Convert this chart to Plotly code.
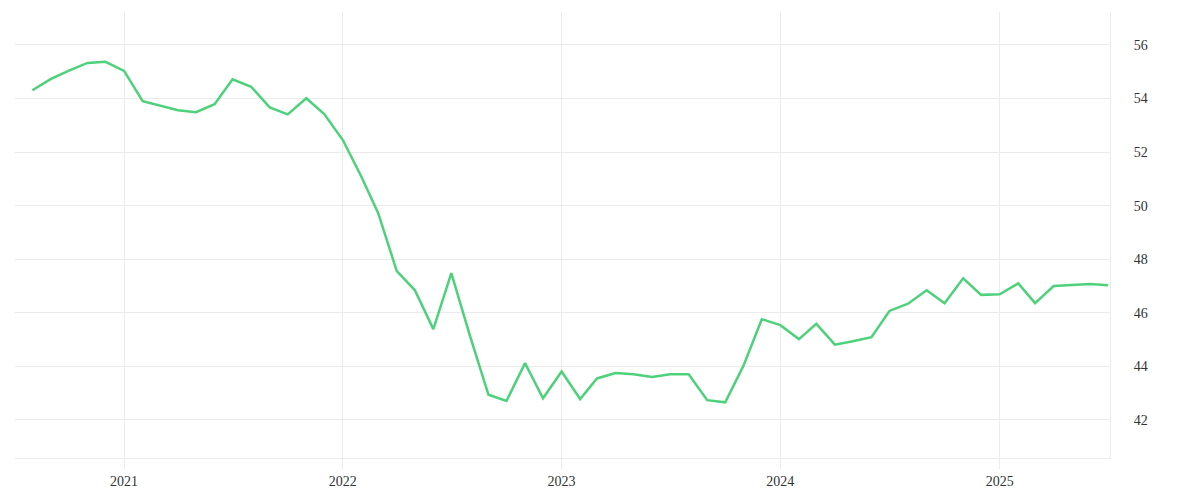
import pandas as pd
import plotly.graph_objects as go

# monthly readings, Aug 2020 .. Jul 2025
months = pd.date_range("2020-08-01", "2025-07-01", freq="MS")
values = [
    54.31, 54.73, 55.04, 55.33, 55.37,
    55.03, 53.90, 53.73, 53.56, 53.49, 53.79, 54.72, 54.44, 53.67, 53.41, 54.01, 53.42,
    52.45, 51.08, 49.72, 47.56, 46.85, 45.39, 47.48, 45.15, 42.94, 42.71, 44.12, 42.81,
    43.81, 42.78, 43.55, 43.75, 43.71, 43.60, 43.71, 43.71, 42.74, 42.66, 44.05, 45.76,
    45.54, 45.02, 45.59, 44.81, 44.94, 45.09, 46.07, 46.34, 46.84, 46.36, 47.29, 46.67,
    46.69, 47.10, 46.36, 47.00, 47.04, 47.08, 47.03,
]
year_ticks = ["2021-01-01", "2022-01-01", "2023-01-01", "2024-01-01", "2025-01-01"]
year_labels = ["2021", "2022", "2023", "2024", "2025"]
y_ticks = [42, 44, 46, 48, 50, 52, 54, 56]

grid = "#ebebeb"

fig = go.Figure()
fig.add_trace(go.Scatter(
    x=months, y=values, mode="lines",
    line=dict(color="#4dd17a", width=2.5),
    hoverinfo="x+y", showlegend=False,
))

fig.update_layout(
    width=1200, height=500,
    margin=dict(l=7, r=98, t=4, b=50),
    paper_bgcolor="white", plot_bgcolor="white",
    font=dict(family="Liberation Serif", size=14, color="#333333"),
    xaxis=dict(
        range=["2020-07-03", "2025-07-04"],
        tickvals=year_ticks, ticktext=year_labels,
        showgrid=True, gridcolor=grid, gridwidth=1,
        ticks="outside", ticklen=10, tickcolor=grid,
        showline=True, linecolor=grid, linewidth=1,
        zeroline=False,
    ),
    yaxis=dict(
        side="right", range=[40.58, 57.23],
        tickvals=y_ticks,
        showgrid=True, gridcolor=grid, gridwidth=1,
        showline=True, linecolor=grid, linewidth=1,
        ticklabelstandoff=20,
        zeroline=False,
    ),
)

fig.write_html("out.html")
